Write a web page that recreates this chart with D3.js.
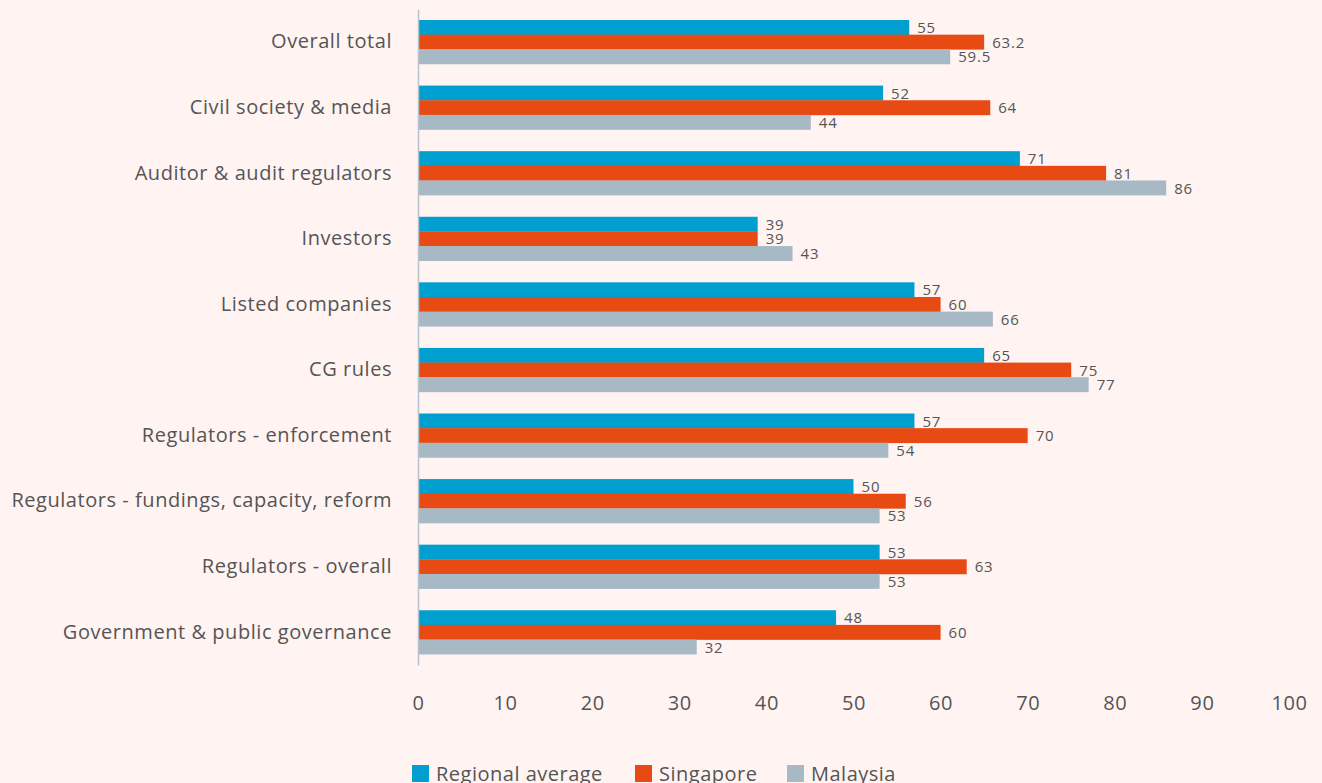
<!DOCTYPE html>
<html>
<head>
<meta charset="utf-8">
<script src="https://cdn.jsdelivr.net/npm/d3@7"></script>
<style>
  html, body { margin: 0; padding: 0; background: #fff4f2; }
  svg { display: block; font-family: "Open Sans", sans-serif; }
</style>
</head>
<body>
<script>
// categories, top to bottom
const categories = [
  "Overall total",
  "Civil society & media",
  "Auditor & audit regulators",
  "Investors",
  "Listed companies",
  "CG rules",
  "Regulators - enforcement",
  "Regulators - fundings, capacity, reform",
  "Regulators - overall",
  "Government & public governance"
];

const seriesNames = ["Regional average", "Singapore", "Malaysia"];
const seriesColors = ["#009fd0", "#e84a13", "#a8b9c6"];

// bar lengths as drawn in the picture
const regionalValues  = [56.4, 53.4, 69.1, 39, 57, 65, 57, 50, 53, 48];
const singaporeValues = [65.0, 65.7, 79.0, 39, 60, 75, 70, 56, 63, 60];
const malaysiaValues  = [61.1, 45.1, 85.9, 43, 66, 77, 54, 53, 53, 32];

// value labels as printed next to the bars
const regionalLabels  = ["55", "52", "71", "39", "57", "65", "57", "50", "53", "48"];
const singaporeLabels = ["63.2", "64", "81", "39", "60", "75", "70", "56", "63", "60"];
const malaysiaLabels  = ["59.5", "44", "86", "43", "66", "77", "54", "53", "53", "32"];

const xTicks = [0, 10, 20, 30, 40, 50, 60, 70, 80, 90, 100];

const W = 1322, H = 783;
const svg = d3.select("body").append("svg").attr("width", W).attr("height", H);

const x = d3.scaleLinear().domain([0, 100]).range([418, 1289]);
const y = d3.scaleBand().domain(categories).range([9.2, 665]).paddingInner(0.33).paddingOuter(0.165);
const ySub = d3.scaleBand().domain(seriesNames).range([0, y.bandwidth()]);

const rows = categories.map((c, i) => ({
  cat: c,
  vals: [regionalValues[i], singaporeValues[i], malaysiaValues[i]],
  labels: [regionalLabels[i], singaporeLabels[i], malaysiaLabels[i]]
}));

// bars
const groups = svg.selectAll("g.row").data(rows).enter().append("g")
  .attr("class", "row")
  .attr("transform", d => "translate(0," + y(d.cat) + ")");

groups.selectAll("rect")
  .data(d => d.vals.map((v, j) => ({ v, name: seriesNames[j], j, label: d.labels[j] })))
  .enter().append("rect")
  .attr("x", x(0))
  .attr("y", d => ySub(d.name))
  .attr("width", d => x(d.v) - x(0))
  .attr("height", ySub.bandwidth() + 0.3)
  .attr("fill", d => seriesColors[d.j]);

groups.selectAll("text.val")
  .data(d => d.vals.map((v, j) => ({ v, name: seriesNames[j], label: d.labels[j] })))
  .enter().append("text")
  .attr("class", "val")
  .attr("x", d => x(d.v) + 8)
  .attr("y", d => ySub(d.name) + ySub.bandwidth() / 2 + 0.5)
  .attr("dy", "0.35em")
  .attr("font-size", 15)
  .attr("letter-spacing", 0.8)
  .attr("fill", "#555")
  .text(d => d.label);

// y axis: line plus category labels
const yAxis = svg.append("g")
  .attr("transform", "translate(" + x(0) + ",0)")
  .call(d3.axisLeft(y).tickSize(0).tickPadding(26));
yAxis.select(".domain").attr("stroke", "#b4c3cd").attr("stroke-width", 1.5);
yAxis.selectAll("text")
  .attr("font-size", 20).attr("letter-spacing", 0.55)
  .attr("fill", "#555").attr("font-family", "Open Sans");

// x axis: labels only
const xAxis = svg.append("g")
  .attr("transform", "translate(0,690)")
  .call(d3.axisBottom(x).tickValues(xTicks).tickSize(0).tickPadding(6));
xAxis.select(".domain").remove();
xAxis.selectAll("text")
  .attr("font-size", 20).attr("letter-spacing", 0.6)
  .attr("fill", "#555").attr("font-family", "Open Sans");

// legend
const legendX = [412, 635, 787];
const legend = svg.append("g");
seriesNames.forEach((name, j) => {
  legend.append("rect")
    .attr("x", legendX[j]).attr("y", 765)
    .attr("width", 17).attr("height", 17)
    .attr("fill", seriesColors[j]);
  legend.append("text")
    .attr("x", legendX[j] + 24).attr("y", 781)
    .attr("font-size", 20).attr("letter-spacing", 0.5).attr("fill", "#555")
    .text(name);
});
</script>
</body>
</html>
